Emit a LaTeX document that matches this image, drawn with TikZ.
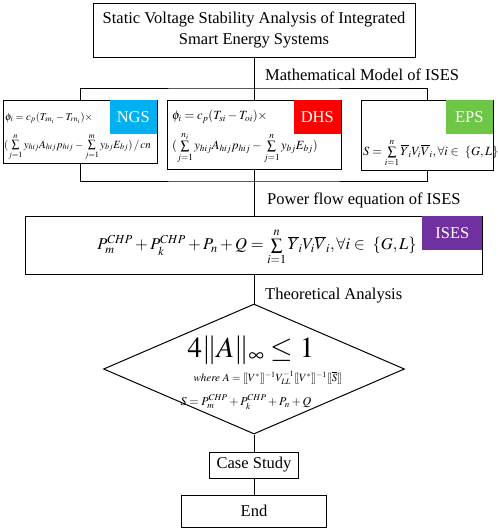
\documentclass[tikz,border=0pt]{standalone}
\usepackage{mathptmx}
\usepackage[no-math]{fontspec}
\setmainfont{Liberation Serif}
\usetikzlibrary{positioning,shapes.geometric}
\definecolor{ngscyan}{RGB}{0,176,240}
\definecolor{dhsred}{RGB}{255,0,0}
\definecolor{epsgreen}{RGB}{110,198,70}
\definecolor{isespurple}{RGB}{112,48,160}
\newcommand{\mainsize}{\fontsize{16.5}{21}\selectfont}
\newcommand{\eqsize}{\fontsize{12.5}{14}\selectfont}
\newcommand{\dbl}[1]{[\![#1]\!]}
\tikzset{
  flowbox/.style={draw, line width=1pt, inner sep=2pt},
  tagcell/.style={fill=#1, text=white, inner sep=0pt, minimum width=47pt, minimum height=34pt, anchor=north east},
  eqline/.style={anchor=west, inner sep=0pt, font=\eqsize},
  steplabel/.style={anchor=west, inner sep=0pt},
  link/.style={line width=1pt}
}
\newcommand{\systag}[3]{%
  \node[tagcell=#2] (#1tag) at ([xshift=-0.5pt,yshift=-0.5pt]#1.north east) {#3};}

\begin{document}
\begin{tikzpicture}[x=1pt, y=-1pt, font=\mainsize]
  \useasboundingbox (0,0) rectangle (498,531);
  \node[flowbox, minimum width=322pt, minimum height=54pt, align=center] (title) at (254,30)
    {Static Voltage Stability Analysis of Integrated\\Smart Energy Systems};
  \node[steplabel] (mathlbl) at (265,75) {Mathematical Model of ISES};
  % subsystem models
  \node[flowbox, minimum width=154pt, minimum height=63pt] (ngs) at (80,131.5) {};
  \node[flowbox, minimum width=174pt, minimum height=69pt] (dhs) at (254,134.5) {};
  \node[flowbox, minimum width=132pt, minimum height=70pt] (eps) at (427,135) {};
  \systag{ngs}{ngscyan}{NGS}
  \systag{dhs}{dhsred}{DHS}
  \systag{eps}{epsgreen}{EPS}
  \node[eqline, font=\fontsize{10.5}{12}\selectfont] (ngsA) at (5,118) {$\phi_i = c_p(T_{sn_i}-T_{rn_i})\times$};
  \node[eqline, font=\fontsize{11}{12}\selectfont] (ngsB) at (4,147) {$(\sum\limits_{j=1}^{n} y_{hij}A_{hij}p_{hij}-\sum\limits_{j=1}^{m} y_{bj}E_{bj})\,/\,cn$};
  \node[eqline] (dhsA) at (172,117) {$\phi_i = c_p(T_{si}-T_{oi})\times$};
  \node[eqline] (dhsB) at (172,148) {$(\sum\limits_{j=1}^{n_i} y_{hij}A_{hij}p_{hij}-\sum\limits_{j=1}^{n} y_{bj}E_{bj})$};
  \node[eqline] (epsA) at (363,153) {$S=\sum\limits_{i=1}^{n}\overline{Y}_iV_i\overline{V}_i, \forall i\in\ \{G,L\}$};
  % power flow
  \node[steplabel] (flowlbl) at (267,200) {Power flow equation of ISES};
  \node[flowbox, minimum width=457pt, minimum height=58pt] (ises) at (254,245) {};
  \node[tagcell=isespurple, minimum width=60pt] (isestag) at ([xshift=-0.5pt,yshift=-0.5pt]ises.north east) {ISES};
  \node[inner sep=0pt, font=\fontsize{16.5}{18}\selectfont] (isesA) at (257,247)
    {$P_m^{CHP}+P_k^{CHP}+P_n+Q=\sum\limits_{i=1}^{n}\overline{Y}_iV_i\overline{V}_i, \forall i\in\ \{G,L\}$};
  % stability check
  \node[steplabel] (theolbl) at (265,296) {Theoretical Analysis};
  \node[diamond, draw, line width=1pt, inner sep=0pt, minimum width=301pt, minimum height=130pt] (check) at (254,369) {};
  \node[inner sep=0pt, font=\fontsize{29}{32}\selectfont] (critA) at (251,350) {$4\|A\|_\infty \le 1$};
  \node[inner sep=0pt, font=\fontsize{11}{13}\selectfont] (critB) at (268,378)
    {$\mathit{where}\ A=\dbl{V^*}^{-1}V_{LL}^{-1}\dbl{V^*}^{-1}\dbl{\overline{S}}$};
  \node[inner sep=0pt, font=\fontsize{12}{14}\selectfont] (critC) at (246,402) {$S=P_m^{CHP}+P_k^{CHP}+P_n+Q$};
  \node[flowbox, minimum width=89pt, minimum height=26pt] (case) at (254,465) {Case Study};
  \node[flowbox, minimum width=145pt, minimum height=32pt] (end) at (254,511) {End};
  % connectors
  \coordinate (split) at (254,88);
  \coordinate (merge) at (254,181);
  \draw[link] (title.south) -- (dhs.north);
  \draw[link] (ngs.north) |- (split) -| (eps.north);
  \draw[link] (ngs.south) |- (merge) -| (eps.south);
  \draw[link] (dhs.south) -- (ises.north);
  \draw[link] (ises.south) -- (check.north);
  \draw[link] (check.south) -- (case.north);
  \draw[link] (case.south) -- (end.north);
\end{tikzpicture}
\end{document}
